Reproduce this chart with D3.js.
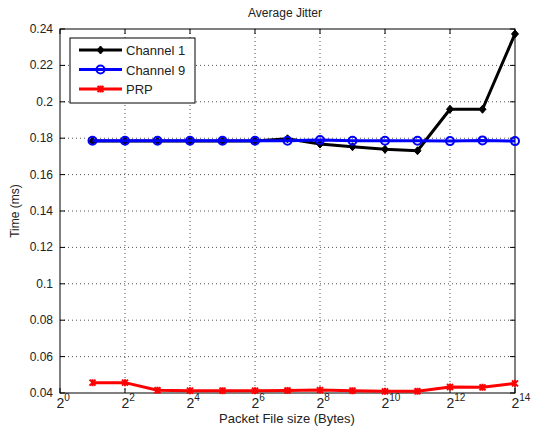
<!DOCTYPE html>
<html><head><meta charset="utf-8">
<script src="https://cdn.jsdelivr.net/npm/d3@7"></script>
<style>body{margin:0;background:#fff}svg{display:block}text{font-family:"Liberation Sans",Arial,sans-serif;fill:#222}</style>
</head><body><svg id="c" width="534" height="430"></svg>
<script>
const exponents = [1,2,3,4,5,6,7,8,9,10,11,12,13,14];
const channel1 = [0.1785,0.1785,0.1785,0.1785,0.1785,0.1785,0.1797,0.1768,0.1753,0.1739,0.1731,0.1959,0.1959,0.2373];
const channel9 = [0.1786,0.1786,0.1786,0.1786,0.1786,0.1786,0.1786,0.1790,0.1786,0.1786,0.1786,0.1784,0.1788,0.1784];
const prp = [0.0457,0.0457,0.0415,0.0413,0.0413,0.0413,0.0414,0.0416,0.0413,0.0409,0.0410,0.0433,0.0431,0.0453];
const xTickExps = [0,2,4,6,8,10,12,14];
const yTicks = [0.04,0.06,0.08,0.1,0.12,0.14,0.16,0.18,0.2,0.22,0.24];
const seriesNames = ["Channel 1","Channel 9","PRP"];
const seriesColors = ["#000000","#0000ff","#ff0000"];

const svg = d3.select("#c");
const L=60,R=515,T=29,B=393;
const x = d3.scaleLog().base(2).domain([1,16384]).range([L,R]);
const y = d3.scaleLinear().domain([0.04,0.24]).range([B,T]);

// grid
const g = svg.append("g");
xTickExps.slice(1,-1).forEach(e=>{
  g.append("line").attr("x1",x(2**e)).attr("x2",x(2**e)).attr("y1",T).attr("y2",B)
   .attr("stroke","#555").attr("stroke-width",1).attr("stroke-dasharray","1,3");
});
yTicks.slice(1,-1).forEach(v=>{
  g.append("line").attr("x1",L).attr("x2",R).attr("y1",y(v)).attr("y2",y(v))
   .attr("stroke","#555").attr("stroke-width",1).attr("stroke-dasharray","1,3");
});
// box
svg.append("rect").attr("x",L).attr("y",T).attr("width",R-L).attr("height",B-T)
  .attr("fill","none").attr("stroke","#000").attr("stroke-width",1);
// ticks inside
xTickExps.forEach(e=>{
  const xx=x(2**e);
  svg.append("line").attr("x1",xx).attr("x2",xx).attr("y1",B).attr("y2",B-5).attr("stroke","#000");
  svg.append("line").attr("x1",xx).attr("x2",xx).attr("y1",T).attr("y2",T+5).attr("stroke","#000");
  const t=svg.append("text").attr("x",xx-3.5).attr("y",B+15).attr("text-anchor","start").style("font-size","14px");
  t.append("tspan").text("2");
  t.append("tspan").attr("dy",-7).style("font-size","10px").text(e);
});
yTicks.forEach(v=>{
  const yy=y(v);
  svg.append("line").attr("x1",L).attr("x2",L+5).attr("y1",yy).attr("y2",yy).attr("stroke","#000");
  svg.append("line").attr("x1",R).attr("x2",R-5).attr("y1",yy).attr("y2",yy).attr("stroke","#000");
  svg.append("text").attr("x",L-7).attr("y",yy+4).attr("text-anchor","end").style("font-size","12px")
    .text(d3.format("~g")(v));
});

const data=[channel1,channel9,prp];
const line=d3.line().x((d,i)=>x(2**exponents[i])).y(d=>y(d));
function marker(sel,k,cx,cy){
  if(k===0){
    sel.append("path").attr("d",`M${cx},${cy-4}L${cx+3.5},${cy}L${cx},${cy+4}L${cx-3.5},${cy}Z`).attr("fill","#000").attr("stroke","#000").attr("stroke-width",1);
  } else if(k===1){
    sel.append("circle").attr("cx",cx).attr("cy",cy).attr("r",4).attr("fill","none").attr("stroke","#0000ff").attr("stroke-width",2);
  } else {
    sel.append("path").attr("d",`M${cx-3},${cy-3}L${cx+3},${cy+3}M${cx-3},${cy+3}L${cx+3},${cy-3}M${cx},${cy-3.5}L${cx},${cy+3.5}`).attr("stroke","#ff0000").attr("stroke-width",2);
  }
}
data.forEach((s,k)=>{
  svg.append("path").datum(s).attr("d",line).attr("fill","none").attr("stroke",seriesColors[k]).attr("stroke-width",3).attr("stroke-linejoin","round");
  const mg=svg.append("g");
  s.forEach((d,i)=>marker(mg,k,x(2**exponents[i]),y(d)));
});

// legend
const lg=svg.append("g");
lg.append("rect").attr("x",70).attr("y",38).attr("width",125).attr("height",65).attr("fill","#fff").attr("stroke","#000");
seriesNames.forEach((n,k)=>{
  const yy=50+k*19.5;
  lg.append("line").attr("x1",79).attr("x2",122).attr("y1",yy).attr("y2",yy).attr("stroke",seriesColors[k]).attr("stroke-width",3);
  marker(lg,k,100.5,yy);
  lg.append("text").attr("x",126).attr("y",yy+5).style("font-size","13px").text(n);
});

// titles
svg.append("text").attr("x",285).attr("y",17).attr("text-anchor","middle").style("font-size","12px").text("Average Jitter");
svg.append("text").attr("x",287).attr("y",423).attr("text-anchor","middle").style("font-size","13px").text("Packet File size (Bytes)");
svg.append("text").attr("transform","translate(19,211) rotate(-90)").attr("text-anchor","middle").style("font-size","12px").text("Time (ms)");
</script></body></html>
